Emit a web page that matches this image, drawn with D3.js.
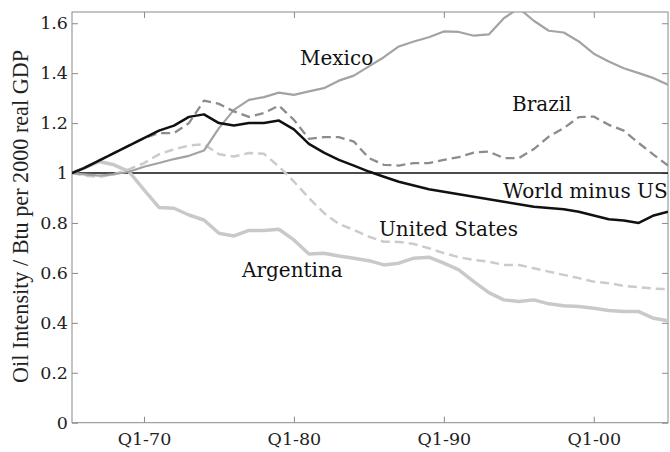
<!DOCTYPE html>
<html>
<head>
<meta charset="utf-8">
<script src="https://cdn.jsdelivr.net/npm/d3@7"></script>
<style>
  body { margin: 0; background: #fff; }
  svg { display: block; }
</style>
</head>
<body>
<div id="chart"></div>
<script>
// Chart size
let width = 670;
let height = 452;
let margin = {top: 12, right: 2, bottom: 29.3, left: 72};

// Data (one value per year, first/last at the plot edges)
let years = [1965.2, 1966, 1967, 1968, 1969, 1970, 1971, 1972, 1973, 1974,
             1975, 1976, 1977, 1978, 1979, 1980, 1981, 1982, 1983, 1984,
             1985, 1986, 1987, 1988, 1989, 1990, 1991, 1992, 1993, 1994,
             1995, 1996, 1997, 1998, 1999, 2000, 2001, 2002, 2003, 2004, 2004.95];

let argentina = [1.00, 1.02, 1.046, 1.033, 1.006, 0.933, 0.862, 0.859, 0.832, 0.812,
                 0.759, 0.748, 0.77, 0.77, 0.775, 0.732, 0.676, 0.679, 0.668, 0.659,
                 0.649, 0.632, 0.639, 0.659, 0.663, 0.639, 0.612, 0.565, 0.521, 0.492,
                 0.485, 0.492, 0.476, 0.468, 0.465, 0.458, 0.449, 0.445, 0.445, 0.418, 0.408];

let united_states = [1.00, 0.99, 0.985, 0.995, 1.015, 1.04, 1.075, 1.095, 1.11, 1.115,
                     1.075, 1.066, 1.08, 1.077, 1.026, 0.966, 0.90, 0.84, 0.796, 0.772,
                     0.745, 0.725, 0.724, 0.716, 0.699, 0.679, 0.663, 0.652, 0.645, 0.632,
                     0.632, 0.619, 0.605, 0.592, 0.579, 0.565, 0.559, 0.548, 0.543, 0.537, 0.535];

let mexico = [1.00, 0.995, 0.99, 0.995, 1.005, 1.025, 1.04, 1.056, 1.069, 1.09,
              1.18, 1.253, 1.293, 1.304, 1.322, 1.313, 1.327, 1.34, 1.37, 1.39,
              1.427, 1.464, 1.507, 1.527, 1.544, 1.567, 1.565, 1.55, 1.555, 1.62,
              1.66, 1.61, 1.57, 1.563, 1.527, 1.478, 1.447, 1.42, 1.40, 1.38, 1.354];

let brazil = [1.00, 1.02, 1.05, 1.08, 1.11, 1.14, 1.16, 1.16, 1.20, 1.29,
              1.277, 1.247, 1.225, 1.24, 1.27, 1.213, 1.137, 1.144, 1.144, 1.126,
              1.06, 1.033, 1.03, 1.04, 1.04, 1.053, 1.064, 1.082, 1.086, 1.06,
              1.06, 1.096, 1.146, 1.18, 1.224, 1.226, 1.193, 1.17, 1.12, 1.073, 1.03];

let world_minus_us = [1.00, 1.02, 1.05, 1.08, 1.11, 1.14, 1.17, 1.19, 1.225, 1.235,
                      1.20, 1.19, 1.20, 1.20, 1.21, 1.175, 1.117, 1.082, 1.053, 1.03,
                      1.006, 0.985, 0.965, 0.95, 0.935, 0.925, 0.915, 0.905, 0.895, 0.885,
                      0.875, 0.865, 0.86, 0.855, 0.845, 0.83, 0.815, 0.81, 0.80, 0.83, 0.845];

let y_ticks = [0, 0.2, 0.4, 0.6, 0.8, 1, 1.2, 1.4, 1.6];
let x_ticks = [1970, 1980, 1990, 2000];
let x_tick_labels = ["Q1-70", "Q1-80", "Q1-90", "Q1-00"];

let plot_width = width - margin.left - margin.right;
let plot_height = height - margin.top - margin.bottom;

let font = "DejaVu Serif";
let title_font = "Liberation Serif, DejaVu Serif";

let svg = d3.select("#chart")
            .append("svg")
            .attr("width", width)
            .attr("height", height);

let g = svg.append("g")
           .attr("transform", "translate(" + margin.left + "," + margin.top + ")");

let x = d3.scaleLinear()
          .domain([1965.2, 2004.95])
          .range([0, plot_width]);

let y = d3.scaleLinear()
          .domain([0, 1.645])
          .range([plot_height, 0]);

g.append("clipPath")
 .attr("id", "plot-clip")
 .append("rect")
 .attr("width", plot_width)
 .attr("height", plot_height);

// Axes: ticks on all four sides, pointing inward
g.append("g")
 .attr("transform", "translate(0," + plot_height + ")")
 .call(d3.axisBottom(x)
         .tickValues(x_ticks)
         .tickFormat(function(d, i) { return x_tick_labels[i]; })
         .tickSizeInner(-6)
         .tickSizeOuter(0)
         .tickPadding(10));

g.append("g")
 .call(d3.axisLeft(y)
         .tickValues(y_ticks)
         .tickFormat(function(d) { return String(+d.toFixed(1)); })
         .tickSizeInner(-6)
         .tickSizeOuter(0)
         .tickPadding(4));

g.append("g")
 .call(d3.axisTop(x).tickValues(x_ticks).tickFormat("").tickSizeInner(-6).tickSizeOuter(0));

g.append("g")
 .attr("transform", "translate(" + plot_width + ",0)")
 .call(d3.axisRight(y).tickValues(y_ticks).tickFormat("").tickSizeInner(-6).tickSizeOuter(0));

g.selectAll(".domain").remove();
g.selectAll(".tick line").attr("stroke", "#8a8a8a");
g.selectAll("g").attr("font-family", font).attr("font-size", 17.5);
g.selectAll(".tick text").attr("fill", "#222");

// frame
g.append("rect")
 .attr("width", plot_width)
 .attr("height", plot_height)
 .style("fill", "none")
 .style("stroke", "#8a8a8a")
 .style("stroke-width", 1);

// series
let series = [
  {name: "Argentina", values: argentina, color: "#c9c9c9", width: 3.5, dash: null},
  {name: "United States", values: united_states, color: "#cbcbcb", width: 2.5, dash: "9,5"},
  {name: "Mexico", values: mexico, color: "#a3a3a3", width: 2.2, dash: null},
  {name: "Brazil", values: brazil, color: "#8c8c8c", width: 2.3, dash: "9,5"},
  {name: "World minus US", values: world_minus_us, color: "#111", width: 2.5, dash: null}
];

let line = d3.line()
             .x(function(d, i) { return x(years[i]); })
             .y(function(d) { return y(d); });

let lines = g.append("g").attr("clip-path", "url(#plot-clip)");

// reference line at 1
lines.append("line")
     .attr("x1", 0)
     .attr("x2", plot_width)
     .attr("y1", y(1))
     .attr("y2", y(1))
     .style("stroke", "#111")
     .style("stroke-width", 1.6);

lines.selectAll("path.series")
     .data(series)
     .enter()
     .append("path")
     .attr("class", "series")
     .attr("d", function(d) { return line(d.values); })
     .style("fill", "none")
     .style("stroke", function(d) { return d.color; })
     .style("stroke-width", function(d) { return d.width; })
     .style("stroke-dasharray", function(d) { return d.dash; })
     .style("stroke-linejoin", "round");

// series labels
let labels = [
  {text: "Mexico", x: 300, y: 65},
  {text: "Brazil", x: 512, y: 111},
  {text: "World minus US", x: 503, y: 198},
  {text: "United States", x: 379, y: 236},
  {text: "Argentina", x: 242, y: 277}
];

svg.selectAll("text.label")
   .data(labels)
   .enter()
   .append("text")
   .attr("class", "label")
   .attr("x", function(d) { return d.x; })
   .attr("y", function(d) { return d.y; })
   .attr("font-family", font)
   .attr("font-size", 20)
   .attr("fill", "#111")
   .text(function(d) { return d.text; });

// y axis title, sized so it spans about 333px like the original
let title = svg.append("text")
   .attr("transform", "translate(28," + 216.5 + ") rotate(-90)")
   .attr("text-anchor", "middle")
   .attr("font-family", title_font)
   .attr("font-size", 22)
   .attr("fill", "#222")
   .text("Oil Intensity / Btu per 2000 real GDP");

let title_len = title.node().getComputedTextLength();
if (title_len > 0) {
  title.attr("font-size", 22 * 333 / title_len);
}
</script>
</body>
</html>
